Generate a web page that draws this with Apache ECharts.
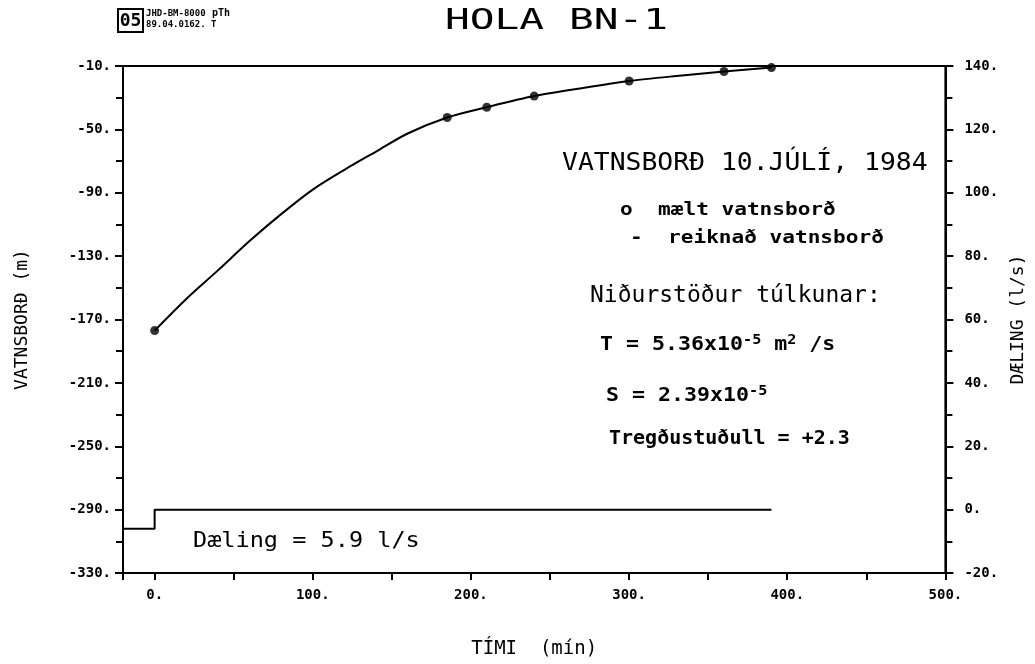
<!DOCTYPE html>
<html>
<head>
<meta charset="utf-8">
<title>HOLA BN-1</title>
<script src="https://cdn.jsdelivr.net/npm/echarts@6/dist/echarts.min.js"></script>
<style>
  html, body { margin: 0; padding: 0; background: #fff; }
  #chart { width: 1035px; height: 664px; }
</style>
</head>
<body>
<div id="chart"></div>
<script>
// mælt vatnsborð (measured points)
const measTime = [0, 185, 210, 240, 300, 360, 390]
const measLevel = [-177, -42.5, -36, -29, -19.5, -13.5, -11]

// reiknað vatnsborð (calculated curve)
const calcTime = [0, 20, 40, 60, 80, 100, 120, 140, 160, 185, 210, 240, 270, 300, 330, 360, 390]
const calcLevel = [-177, -157, -139, -120.5, -103.5, -88, -75.5, -64, -52.6, -42.5, -36, -29, -24, -19.5, -16.3, -13.5, -11]

// dæling (right axis, l/s)
const pumpTime = [-20, 0, 0, 390]
const pumpRate = [-6, -6, 0, 0]

const MONO = '"DejaVu Sans Mono", "Liberation Mono", monospace'
const BLACK = '#000'

const chart = echarts.init(document.getElementById('chart'))

// plotter style text helper (scaleX stretches the glyphs like the pen font)
function txt(x, y, text, size, opts = {}) {
  return {
    type: 'text',
    x, y,
    scaleX: opts.sx ?? 1,
    style: {
      text,
      font: `${opts.bold ? 'bold ' : ''}${size}px ${MONO}`,
      fill: BLACK,
      align: opts.align ?? 'left',
      verticalAlign: 'middle',
      rich: opts.rich,
    },
  }
}

const supRich = (size) => ({
  b: { font: `bold ${size}px ${MONO}`, fill: BLACK, lineHeight: size + 4 },
  s: { font: `bold ${Math.round(size * 0.7)}px ${MONO}`, fill: BLACK, verticalAlign: 'top', lineHeight: size + 4 },
})

const tickStyle = { color: BLACK, width: 2 }
const labelStyle = { color: BLACK, fontFamily: MONO, fontWeight: 'bold', fontSize: 14 }

const option = {
  animation: false,
  backgroundColor: '#fff',
  grid: { left: 123, right: 83, top: 66, bottom: 84, show: true, borderColor: BLACK, borderWidth: 2 },
  xAxis: {
    type: 'value',
    min: -20,
    max: 500,
    splitNumber: 10,
    axisLine: { onZero: false, lineStyle: tickStyle },
    axisTick: { length: 7, lineStyle: tickStyle },
    axisLabel: { ...labelStyle, margin: 15, formatter: (v) => (v % 100 === 0 ? v + '.' : '') },
    splitLine: { show: false },
    name: 'TÍMI  (mín)',
    nameLocation: 'middle',
    nameGap: 67,
    nameTextStyle: { color: BLACK, fontFamily: MONO, fontSize: 19 },
  },
  yAxis: [
    {
      type: 'value',
      position: 'left',
      min: -330,
      max: -10,
      interval: 40,
      axisLine: { show: true, onZero: false, lineStyle: tickStyle },
      axisTick: { show: true, length: 8, lineStyle: tickStyle },
      minorTick: { show: true, splitNumber: 2, length: 7, lineStyle: tickStyle },
      axisLabel: { ...labelStyle, margin: 12, formatter: (v) => v + '.' },
      splitLine: { show: false },
      name: 'VATNSBORÐ (m)',
      nameLocation: 'middle',
      nameRotate: 90,
      nameGap: 92,
      nameTextStyle: { color: BLACK, fontFamily: MONO, fontSize: 18 },
    },
    {
      type: 'value',
      position: 'right',
      min: -20,
      max: 140,
      interval: 20,
      axisLine: { show: true, onZero: false, lineStyle: tickStyle },
      axisTick: { show: true, length: 8, lineStyle: tickStyle },
      minorTick: { show: true, splitNumber: 2, length: 7, lineStyle: tickStyle },
      axisLabel: { ...labelStyle, margin: 19, formatter: (v) => v + '.' },
      splitLine: { show: false },
      name: 'DÆLING (l/s)',
      nameLocation: 'middle',
      nameRotate: 90,
      nameGap: 62,
      nameTextStyle: { color: BLACK, fontFamily: MONO, fontSize: 18 },
    },
  ],
  series: [
    {
      name: 'reiknað vatnsborð',
      type: 'line',
      smooth: 0.3,
      showSymbol: false,
      data: calcTime.map((t, i) => [t, calcLevel[i]]),
      lineStyle: { color: BLACK, width: 2 },
      z: 3,
    },
    {
      name: 'mælt vatnsborð',
      type: 'scatter',
      symbol: 'circle',
      symbolSize: 9,
      data: measTime.map((t, i) => [t, measLevel[i]]),
      itemStyle: { color: BLACK },
      z: 4,
    },
    {
      name: 'dæling',
      type: 'line',
      yAxisIndex: 1,
      showSymbol: false,
      data: pumpTime.map((t, i) => [t, pumpRate[i]]),
      lineStyle: { color: BLACK, width: 2 },
    },
  ],
  graphic: [
    // stimpill efst til vinstri
    { type: 'rect', shape: { x: 118, y: 9, width: 25, height: 23 }, style: { fill: 'none', stroke: BLACK, lineWidth: 2 } },
    txt(130.5, 21, '05', 18, { bold: true, align: 'center' }),
    txt(146, 14, 'JHD-BM-8000', 9, { bold: true }),
    txt(212, 13, 'pTh', 10, { bold: true }),
    txt(146, 25, '89.04.0162. T', 9, { bold: true }),
    // titill
    txt(445, 22, 'HOLA BN-1', 28, { sx: 1.47 }),
    // textar inni í grafinu
    txt(562, 164, 'VATNSBORÐ 10.JÚLÍ, 1984', 24, { sx: 1.1 }),
    txt(620, 211, 'o  mælt vatnsborð', 17, { bold: true, sx: 1.24 }),
    txt(630, 239, '-  reiknað vatnsborð', 17, { bold: true, sx: 1.24 }),
    txt(590, 296, 'Niðurstöður túlkunar:', 23, { sx: 1.0 }),
    txt(600, 345, '{b|T = 5.36x10}{s|-5}{b| m}{s|2}{b| /s}', 20, { sx: 1.08, rich: supRich(20) }),
    txt(606, 396, '{b|S = 2.39x10}{s|-5}', 20, { sx: 1.08, rich: supRich(20) }),
    txt(609, 439, 'Tregðustuðull = +2.3', 20, { bold: true }),
    txt(193, 541, 'Dæling = 5.9 l/s', 22, { sx: 1.07 }),
  ],
}

chart.setOption(option)
window.addEventListener('resize', () => chart.resize())
</script>
</body>
</html>
